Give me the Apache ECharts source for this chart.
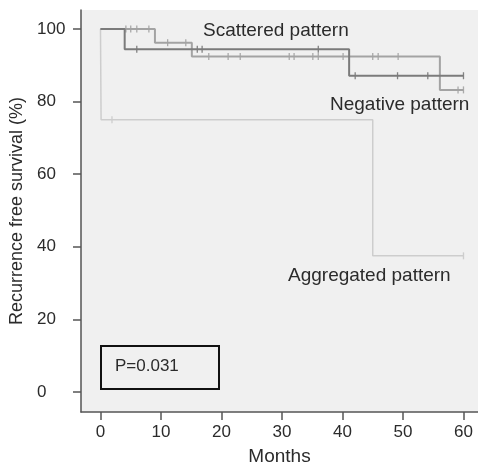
<!DOCTYPE html>
<html>
<head>
<meta charset="utf-8">
<script src="https://cdn.jsdelivr.net/npm/echarts@6/dist/echarts.min.js"></script>
<style>
  html, body { margin: 0; padding: 0; background: #fff; }
  #chart { width: 478px; height: 464px; }
</style>
</head>
<body>
<div id="chart"></div>
<script>
// months / survival (%)
const xTicks = [0, 10, 20, 30, 40, 50, 60]
const yTicks = [0, 20, 40, 60, 80, 100]

const scatteredSteps = [[0, 100], [4, 94.4], [41.1, 87.1], [60, 87.1]]
const scatteredCensor = [[6, 94.4], [16, 94.4], [16.8, 94.4], [36, 94.4], [42.1, 87.1], [49.1, 87.1], [54.1, 87.1], [60, 87.1]]

const negativeSteps = [[0, 100], [9, 96.2], [15.1, 92.4], [56.1, 83.2], [60, 83.2]]
const negativeCensor = [
  [4.2, 100], [5, 100], [6, 100], [8, 100],
  [11.1, 96.2], [14.1, 96.2],
  [17.9, 92.4], [21.1, 92.4], [23.1, 92.4], [31.2, 92.4], [32, 92.4], [35.1, 92.4],
  [36, 92.4], [40.1, 92.4], [45, 92.4], [45.9, 92.4], [49.2, 92.4],
  [59.1, 83.2], [60, 83.2]
]

const aggregatedSteps = [[0, 100], [0.1, 75], [45, 37.5], [60, 37.5]]
const aggregatedCensor = [[1.9, 75], [60, 37.5]]

const FONT = 'Liberation Sans'
const TEXT = '#2b2b2b'

const chart = echarts.init(document.getElementById('chart'))

function curve(name, steps, color, width) {
  return {
    name: name,
    type: 'line',
    step: 'end',
    symbol: 'none',
    data: steps,
    lineStyle: { color: color, width: width },
    silent: true
  }
}

function censor(points, color) {
  return {
    type: 'scatter',
    symbol: 'rect',
    symbolSize: [1.3, 7],
    data: points,
    itemStyle: { color: color },
    silent: true
  }
}

chart.setOption({
  animation: false,
  grid: {
    left: 81,
    right: 0,
    top: 10,
    bottom: 52,
    outerBoundsMode: 'none',
    show: true,
    backgroundColor: '#f0f0f0',
    borderWidth: 0
  },
  xAxis: {
    type: 'value',
    min: -3.22,
    max: 62.4,
    name: 'Months',
    nameLocation: 'middle',
    nameGap: 35,
    nameTextStyle: { fontFamily: FONT, fontSize: 19, color: TEXT },
    axisLine: { show: true, onZero: false, lineStyle: { color: '#555', width: 1.5 } },
    axisTick: { show: true, length: 8, customValues: xTicks, lineStyle: { color: '#555', width: 1.5 } },
    axisLabel: { customValues: xTicks, margin: 12, fontFamily: FONT, fontSize: 17, color: TEXT },
    splitLine: { show: false }
  },
  yAxis: {
    type: 'value',
    min: -5.5,
    max: 105.2,
    name: 'Recurrence free survival (%)',
    nameLocation: 'middle',
    nameGap: 55,
    nameTextStyle: { fontFamily: FONT, fontSize: 18, color: TEXT },
    axisLine: { show: true, onZero: false, lineStyle: { color: '#555', width: 1.5 } },
    axisTick: { show: true, length: 8, customValues: yTicks, lineStyle: { color: '#555', width: 1.5 } },
    axisLabel: { customValues: yTicks, align: 'left', margin: 44, fontFamily: FONT, fontSize: 17, color: TEXT },
    splitLine: { show: false }
  },
  series: [
    curve('Aggregated pattern', aggregatedSteps, '#cdcdcd', 1.5),
    censor(aggregatedCensor, '#c4c4c4'),
    curve('Negative pattern', negativeSteps, '#a3a3a3', 2),
    censor(negativeCensor, '#999'),
    curve('Scattered pattern', scatteredSteps, '#7b7b7b', 2),
    censor(scatteredCensor, '#666')
  ],
  graphic: [
    { type: 'text', left: 203, top: 21, style: { text: 'Scattered pattern', font: '19px "Liberation Sans"', fill: TEXT } },
    { type: 'text', left: 330, top: 95, style: { text: 'Negative pattern', font: '19px "Liberation Sans"', fill: TEXT } },
    { type: 'text', left: 288, top: 266, style: { text: 'Aggregated pattern', font: '19px "Liberation Sans"', fill: TEXT } },
    { type: 'rect', shape: { x: 101, y: 346, width: 118, height: 43 }, style: { fill: 'none', stroke: '#111', lineWidth: 2 } },
    { type: 'text', left: 115, top: 358, style: { text: 'P=0.031', font: '17px "Liberation Sans"', fill: TEXT } }
  ]
})
</script>
</body>
</html>
